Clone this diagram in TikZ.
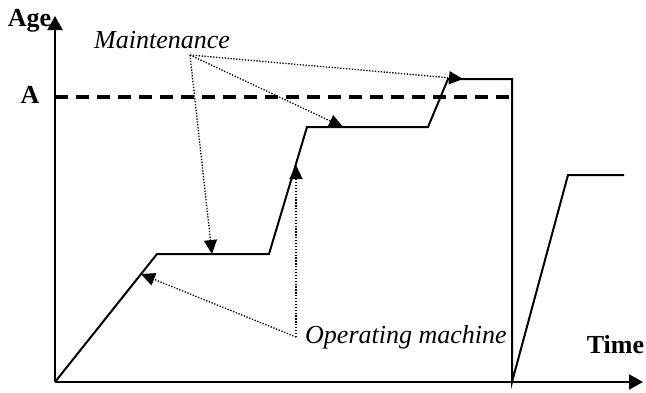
\documentclass[tikz,border=0pt]{standalone}
\usepackage{fontspec}
\setmainfont{Liberation Serif}
\usetikzlibrary{arrows.meta}
\begin{document}
\begin{tikzpicture}[x=1pt,y=-1pt,
  axis/.style={line width=2.2pt,-{Triangle[length=14pt,width=15pt]}},
  curve/.style={line width=2pt,line join=miter},
  limit/.style={line width=3.6pt,dash pattern=on 13pt off 8pt},
  pointer/.style={line width=1.3pt,dash pattern=on 1.3pt off 1.6pt,-{Triangle[length=14pt,width=13pt]}},
  itlbl/.style={font=\fontsize{26}{30}\selectfont\itshape,inner sep=0pt},
  bflbl/.style={font=\fontsize{26}{30}\selectfont\bfseries,inner sep=0pt}]
\useasboundingbox (0,0) rectangle (646,392);
% axes
\coordinate (O) at (55,382);
\coordinate (ytip) at (55,16);
\coordinate (xtip) at (643,382);
\draw[axis] (O) -- (ytip);
\draw[axis] (O) -- (xtip);
\node[bflbl,anchor=base] (age) at (29.5,26) {Age};
\node[bflbl,anchor=base] (time) at (615.5,353) {Time};
\node[bflbl,anchor=base] (alab) at (30,103) {A};
% limit line A
\coordinate (a0) at (55,97);
\coordinate (a1) at (512,97);
\draw[limit] (a0) -- (a1);
% age curve
\coordinate (p1) at (157,254);
\coordinate (p2) at (269,254);
\coordinate (p3) at (307,127);
\coordinate (p4) at (428,127);
\coordinate (p5) at (448,79);
\coordinate (p6) at (512,79);
\coordinate (p7) at (512,382);
\coordinate (q1) at (568,175);
\coordinate (q2) at (624,175);
\draw[curve] (O) -- (p1) -- (p2) -- (p3) -- (p4) -- (p5) -- (p6) -- (p7) -- (q1) -- (q2);
% labels
\node[itlbl,anchor=base] (maint) at (162,48) {Maintenance};
\node[itlbl,anchor=base west] (oper) at (305,343) {Operating machine};
\coordinate (mhub) at (190,55);
\coordinate (ohub) at (296,337);
% maintenance pointers
\coordinate (m1) at (212,254);
\coordinate (m2) at (343,127);
\coordinate (m3) at (463,79);
\draw[pointer] (mhub) -- (m1);
\draw[pointer] (mhub) -- (m2);
\draw[pointer] (mhub) -- (m3);
% operating pointers
\coordinate (o1) at (141,274);
\coordinate (o2) at (296,165);
\draw[pointer] (ohub) -- (o1);
\draw[pointer] (ohub) -- (o2);
\end{tikzpicture}
\end{document}
